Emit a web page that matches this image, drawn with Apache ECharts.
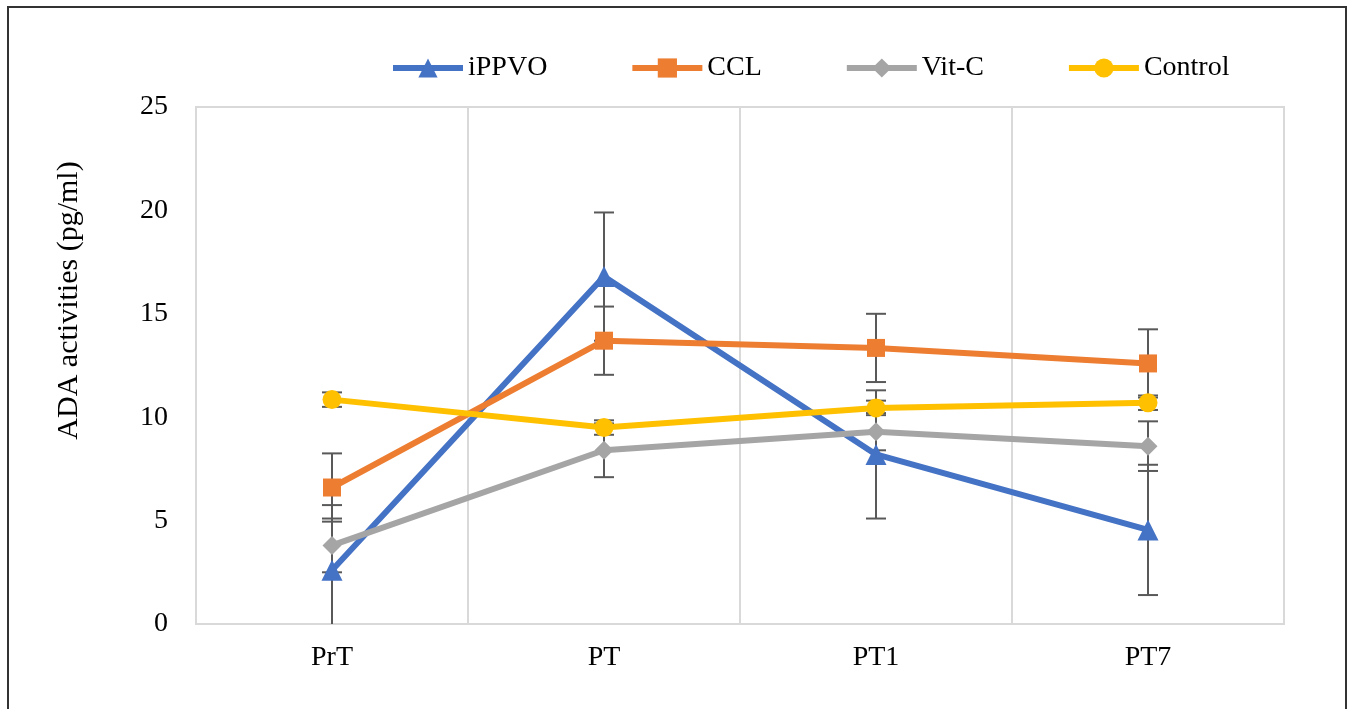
<!DOCTYPE html>
<html>
<head>
<meta charset="utf-8">
<script src="https://cdn.jsdelivr.net/npm/echarts@6/dist/echarts.min.js"></script>
<style>
html,body{margin:0;padding:0;background:#fff;}
#frame{position:absolute;left:7px;top:6px;width:1336px;height:720px;border:2px solid #333;border-bottom:none;}
#chart{position:absolute;left:0;top:0;width:1349px;height:709px;}
</style>
</head>
<body>
<div id="frame"></div>
<div id="chart"></div>
<script>
var categories = ['PrT', 'PT', 'PT1', 'PT7'];
var seriesNames = ['iPPVO', 'CCL', 'Vit-C', 'Control'];
var iPPVO = [2.6, 16.8, 8.2, 4.55];
var CCL = [6.6, 13.7, 13.35, 12.6];
var vitC = [3.8, 8.4, 9.3, 8.6];
var control = [10.85, 9.5, 10.45, 10.7];
var iPPVO_sd = [3.15, 3.1, 3.1, 3.15];
var CCL_sd = [1.65, 1.65, 1.65, 1.65];
var vitC_sd = [1.3, 1.3, 0.9, 1.2];
var control_sd = [0.35, 0.35, 0.35, 0.35];
var yTicks = [0, 5, 10, 15, 20, 25];

var means = [iPPVO, CCL, vitC, control];
var sds = [iPPVO_sd, CCL_sd, vitC_sd, control_sd];
var colors = ['#4472C4', '#ED7D31', '#A5A5A5', '#FFC000'];
var symbols = ['triangle', 'rect', 'diamond', 'circle'];
var symbolSizes = [21, 18, 19, 19];
var font = '"Liberation Serif", "Times New Roman", serif';

function errorRender(params, api) {
  var x = api.value(0), lo = api.value(1), hi = api.value(2);
  var cs = params.coordSys;
  var pHi = api.coord([x, hi]);
  var pLo = api.coord([x, lo]);
  var bottom = cs.y + cs.height;
  var hw = 10;
  var style = {stroke: '#595959', lineWidth: 2};
  var children = [];
  var yLo = Math.min(pLo[1], bottom);
  children.push({type: 'line', shape: {x1: pHi[0], y1: pHi[1], x2: pHi[0], y2: yLo}, style: style});
  children.push({type: 'line', shape: {x1: pHi[0] - hw, y1: pHi[1], x2: pHi[0] + hw, y2: pHi[1]}, style: style});
  if (pLo[1] <= bottom) {
    children.push({type: 'line', shape: {x1: pLo[0] - hw, y1: pLo[1], x2: pLo[0] + hw, y2: pLo[1]}, style: style});
  }
  return {type: 'group', children: children};
}

var series = [];
for (var s = 0; s < 4; s++) {
  series.push({
    name: seriesNames[s],
    type: 'line',
    data: means[s],
    symbol: symbols[s],
    symbolSize: symbolSizes[s],
    lineStyle: {width: 6, color: colors[s]},
    itemStyle: {color: colors[s]},
    z: 3
  });
}
for (var s2 = 0; s2 < 4; s2++) {
  var ed = [];
  for (var i = 0; i < categories.length; i++) {
    ed.push([i, means[s2][i] - sds[s2][i], means[s2][i] + sds[s2][i]]);
  }
  series.push({
    type: 'custom',
    renderItem: errorRender,
    data: ed,
    encode: {x: 0, y: [1, 2]},
    z: 2,
    silent: true
  });
}

var chart = echarts.init(document.getElementById('chart'));
chart.setOption({
  animation: false,
  backgroundColor: 'transparent',
  legend: {
    data: seriesNames,
    left: 385,
    top: 49,
    itemWidth: 70,
    itemHeight: 24,
    itemGap: 82,
    lineStyle: {width: 6},
    textStyle: {fontFamily: font, fontSize: 28, color: '#000'}
  },
  grid: {
    left: 196, right: 65, top: 107, bottom: 85,
    show: true, borderColor: '#d9d9d9', borderWidth: 2
  },
  xAxis: {
    type: 'category',
    data: categories,
    boundaryGap: true,
    axisLine: {show: true, lineStyle: {color: '#d9d9d9', width: 2}},
    axisTick: {show: false},
    splitLine: {show: true, lineStyle: {color: '#d9d9d9', width: 2}},
    axisLabel: {fontFamily: font, fontSize: 28, color: '#000', margin: 20}
  },
  yAxis: {
    type: 'value',
    min: yTicks[0],
    max: yTicks[yTicks.length - 1],
    interval: 5,
    name: 'ADA activities (pg/ml)',
    nameLocation: 'middle',
    nameGap: 112,
    nameTextStyle: {fontFamily: font, fontSize: 30, color: '#000', padding: [0, 0, 0, 130]},
    axisLine: {show: false},
    axisTick: {show: false},
    splitLine: {show: false},
    axisLabel: {fontFamily: font, fontSize: 28, color: '#000', margin: 28}
  },
  series: series
});
</script>
</body>
</html>
